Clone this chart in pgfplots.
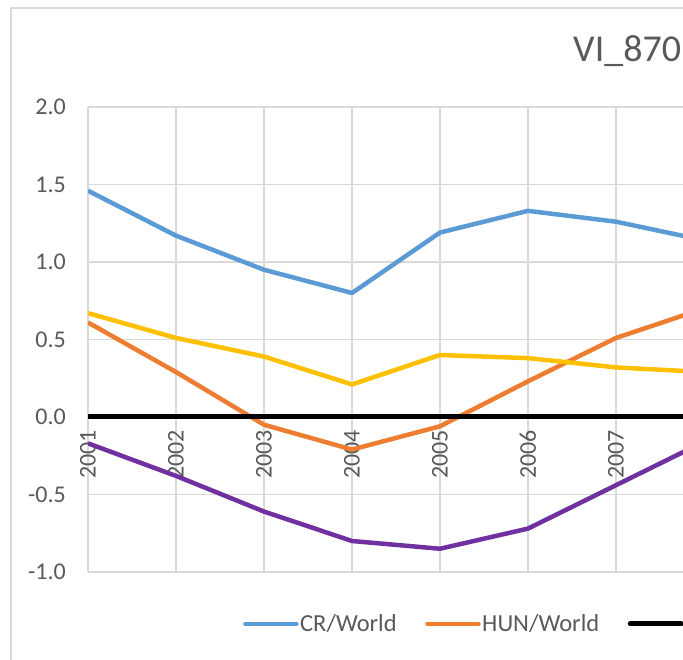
\documentclass[border=0pt]{standalone}
\usepackage{pgfplots}
\pgfplotsset{compat=1.18}
\usepackage{fontspec}
\setmainfont{Carlito}

\definecolor{crblue}{HTML}{5B9BD5}
\definecolor{hunorange}{HTML}{ED7D31}
\definecolor{ygold}{HTML}{FFC000}
\definecolor{ppurple}{HTML}{7030A0}
\definecolor{gridgrey}{HTML}{D9D9D9}
\definecolor{labelgrey}{HTML}{595959}

\begin{document}
\begin{tikzpicture}
\useasboundingbox (0,0) rectangle (683bp,660bp);
\clip (0,0) rectangle (683bp,660bp);
% chart area border
\draw[gridgrey, line width=2bp] (11bp,-10bp) -- (11bp,652bp) -- (700bp,652bp);
% title (cut off at the right edge)
\node[anchor=base west, inner sep=0pt, text=labelgrey, font=\fontsize{38bp}{40bp}\selectfont]
  at (573bp,598bp) {VI\_870};

\begin{axis}[
  at={(88bp,88bp)}, anchor=south west,
  scale only axis,
  width=616bp, height=465bp,
  xmin=2001, xmax=2008,
  ymin=-1, ymax=2,
  axis x line=middle, axis y line=left,
  axis line style={draw=none},
  hide obscured x ticks=false, hide obscured y ticks=false,
  major tick length=0pt,
  tick style={draw=none},
  xtick={2001,...,2007},
  xticklabels={2001,2002,2003,2004,2005,2006,2007},
  extra x ticks={2008}, extra x tick labels={},
  extra x tick style={grid=major},
  ytick={-1,-0.5,...,2},
  grid=major,
  grid style={gridgrey, line width=1.5bp},
  /pgf/number format/assume math mode=true,
  yticklabel style={/pgf/number format/fixed, /pgf/number format/fixed zerofill,
    /pgf/number format/precision=1},
  yticklabel style={anchor=east, inner sep=0pt, xshift=-22bp},
  xticklabel style={rotate=90, anchor=east, inner xsep=13bp, inner ysep=0pt},
  ticklabel style={text=labelgrey, font=\fontsize{24bp}{26bp}\selectfont},
  legend columns=-1,
  legend style={at={(axis description cs:0.2516,-0.1118)}, anchor=west,
    draw=none, fill=none, inner sep=0pt,
    font=\fontsize{24.5bp}{27bp}\selectfont, text=labelgrey,
    nodes={inner sep=1.5bp},
    /tikz/every even column/.append style={column sep=27bp}},
  legend image code/.code={\draw[#1, line cap=round] (0bp,0bp) -- (51bp,0bp);},
  every axis plot/.append style={line join=round},
]
\addplot[crblue, line width=4.5bp] coordinates {
  (2001,1.46) (2002,1.17) (2003,0.95) (2004,0.80) (2005,1.19) (2006,1.33) (2007,1.26) (2008,1.14)};
\addlegendentry{CR/World}
\addplot[hunorange, line width=4.5bp] coordinates {
  (2001,0.61) (2002,0.29) (2003,-0.05) (2004,-0.21) (2005,-0.06) (2006,0.23) (2007,0.51) (2008,0.70)};
\addlegendentry{HUN/World}
\addplot[black, line width=5bp] coordinates {
  (2001,0) (2002,0) (2003,0) (2004,0) (2005,0) (2006,0) (2007,0) (2008,0)};
\addlegendentry{}
\addplot[ygold, line width=4.5bp, forget plot] coordinates {
  (2001,0.67) (2002,0.51) (2003,0.39) (2004,0.21) (2005,0.40) (2006,0.38) (2007,0.32) (2008,0.29)};
\addplot[ppurple, line width=4.5bp, forget plot] coordinates {
  (2001,-0.17) (2002,-0.38) (2003,-0.61) (2004,-0.80) (2005,-0.85) (2006,-0.72) (2007,-0.44) (2008,-0.16)};
\end{axis}
\end{tikzpicture}
\end{document}
